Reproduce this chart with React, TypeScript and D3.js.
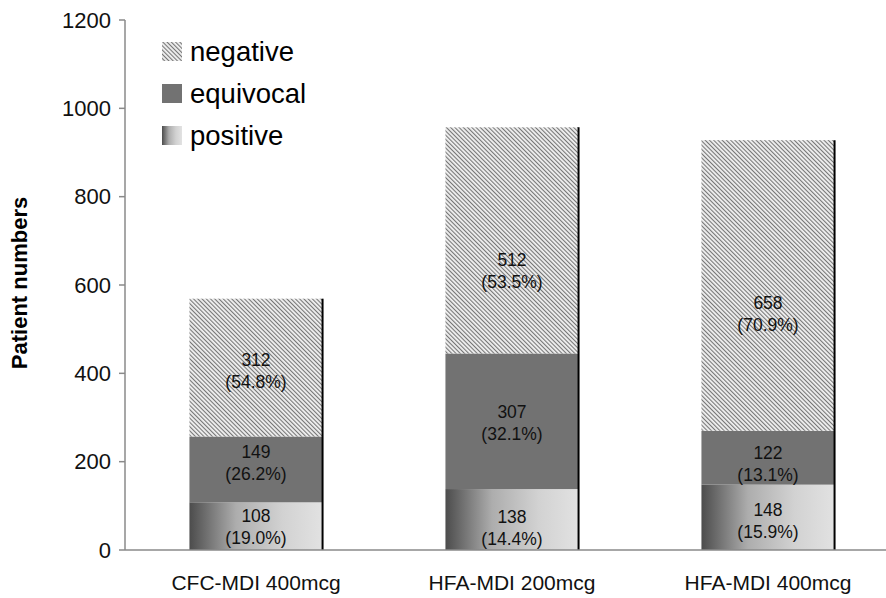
import React from "react";
import * as d3 from "d3";

const categories = ["CFC-MDI 400mcg", "HFA-MDI 200mcg", "HFA-MDI 400mcg"];
const seriesNames = ["positive", "equivocal", "negative"];
const positive = [108, 138, 148];
const equivocal = [149, 307, 122];
const negative = [312, 512, 658];
const positivePct = ["19.0%", "14.4%", "15.9%"];
const equivocalPct = ["26.2%", "32.1%", "13.1%"];
const negativePct = ["54.8%", "53.5%", "70.9%"];
// label anchor values (data units) as placed in the original
const positiveLabelAt = [52, 50, 66];
const equivocalLabelAt = [197, 288, 195];
const negativeLabelAt = [405, 632, 534];
const yTicks = [0, 200, 400, 600, 800, 1000, 1200];
const legendOrder = ["negative", "equivocal", "positive"];

const W = 886;
const H = 598;
const FONT = "'Liberation Sans', Arial, sans-serif";

export default function App() {
  const x = d3.scaleBand<string>().domain(categories).range([128, 896]).paddingInner(0.48).paddingOuter(0.24);
  const y = d3.scaleLinear().domain([0, 1200]).range([550, 20]);

  const rows = categories.map((c, i) => ({ cat: c, positive: positive[i], equivocal: equivocal[i], negative: negative[i] }));
  const stack = d3.stack<any>().keys(seriesNames)(rows);

  const fills: Record<string, string> = {
    positive: "url(#posGrad)",
    equivocal: "#727272",
    negative: "url(#hatch)",
  };
  const values: Record<string, number[]> = { positive, equivocal, negative };
  const pcts: Record<string, string[]> = { positive: positivePct, equivocal: equivocalPct, negative: negativePct };
  const labelAt: Record<string, number[]> = { positive: positiveLabelAt, equivocal: equivocalLabelAt, negative: negativeLabelAt };

  const axisColor = "#8a8a8a";
  const bw = x.bandwidth();

  return (
    <svg width={W} height={H} style={{ position: "absolute", left: 0, top: 0, background: "#fff" }}>
      <defs>
        <pattern id="hatch" patternUnits="userSpaceOnUse" width={3} height={3} patternTransform="rotate(-45)">
          <rect width={3} height={3} fill="#efefef" />
          <line x1={0.5} y1={0} x2={0.5} y2={3} stroke="#767676" strokeWidth={1.15} />
        </pattern>
        <linearGradient id="posGrad" x1="0" y1="0" x2="1" y2="0">
          <stop offset="0" stopColor="#4c4c4c" />
          <stop offset="0.35" stopColor="#adadad" />
          <stop offset="0.7" stopColor="#d2d2d2" />
          <stop offset="1" stopColor="#e2e2e2" />
        </linearGradient>
      </defs>
      <rect width={W} height={H} fill="#fff" />

      {/* bars */}
      {stack.map((layer) => (
        <g key={layer.key}>
          {layer.map((d, i) => (
            <rect
              key={i}
              x={x(categories[i])}
              y={y(d[1])}
              width={bw}
              height={y(d[0]) - y(d[1])}
              fill={fills[layer.key]}
            />
          ))}
        </g>
      ))}
      {/* right black edge */}
      {categories.map((c, i) => (
        <line
          key={c}
          x1={(x(c) as number) + bw}
          x2={(x(c) as number) + bw}
          y1={y(positive[i] + equivocal[i] + negative[i])}
          y2={y(0)}
          stroke="#000"
          strokeWidth={2}
        />
      ))}

      {/* segment labels */}
      {seriesNames.map((s) =>
        categories.map((c, i) => {
          const cx = (x(c) as number) + bw / 2;
          const cy = y(labelAt[s][i]);
          return (
            <g key={s + c} fontFamily={FONT} fontSize={17.5} fill="#111" textAnchor="middle">
              <text x={cx} y={cy - 11} dy="0.35em">{values[s][i]}</text>
              <text x={cx} y={cy + 11} dy="0.35em">({pcts[s][i]})</text>
            </g>
          );
        })
      )}

      {/* axes */}
      <line x1={125} x2={886} y1={y(0)} y2={y(0)} stroke={axisColor} strokeWidth={1.5} />
      <line x1={125} x2={125} y1={y(1200)} y2={y(0)} stroke={axisColor} strokeWidth={1.5} />
      {yTicks.map((t) => (
        <g key={t}>
          <line x1={119} x2={125} y1={y(t)} y2={y(t)} stroke={axisColor} strokeWidth={1.5} />
          <text x={111} y={y(t)} dy="0.35em" textAnchor="end" fontFamily={FONT} fontSize={22} fill="#111">
            {t}
          </text>
        </g>
      ))}
      {categories.map((c) => (
        <text key={c} x={(x(c) as number) + bw / 2} y={583} dy="0.35em" textAnchor="middle" fontFamily={FONT} fontSize={21} fill="#111">
          {c}
        </text>
      ))}
      <text
        transform={`translate(27,283) rotate(-90)`}
        textAnchor="middle"
        fontFamily={FONT}
        fontSize={22}
        fontWeight="bold"
        fill="#000"
      >
        Patient numbers
      </text>

      {/* legend */}
      {legendOrder.map((s, i) => (
        <g key={s} transform={`translate(162,${42 + i * 42})`}>
          <rect x={0} y={0} width={20} height={19} fill={fills[s]} />
          <text x={28} y={18.5} fontFamily={FONT} fontSize={27.5} fill="#000">
            {s}
          </text>
        </g>
      ))}
    </svg>
  );
}
